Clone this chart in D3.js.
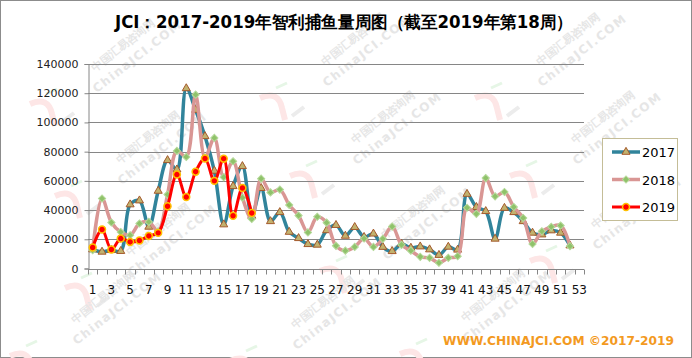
<!DOCTYPE html>
<html>
<head>
<meta charset="utf-8">
<script src="https://cdn.jsdelivr.net/npm/d3@7"></script>
<style>
  body { margin: 0; background: #fff; }
  svg text { font-family: 'DejaVu Sans', sans-serif; }
</style>
</head>
<body>
<div id="chart"></div>
<script>
// weekly catch, weeks 1..52 (2019 up to week 18)
let weeks = d3.range(1, 54)
let years = ['2017', '2018', '2019']

let catch2017 = [13000, 11400, 12500, 11900, 43800, 46500, 28500, 53100, 74100, 67700,
  123300, 108500, 90500, 66800, 30100, 56300, 70000, 36000, 55000, 32300,
  38500, 25000, 20700, 16600, 16200, 26100, 29700, 22300, 28300, 21500,
  23800, 14700, 11800, 16800, 14100, 15000, 13000, 9200, 14800, 12800,
  51000, 42000, 39200, 20300, 41400, 38500, 32300, 24400, 23200, 26000,
  24400, 15700]

let catch2018 = [12500, 47900, 31500, 25000, 22800, 30800, 31900, 25500, 50600, 80500,
  76400, 119000, 76000, 89400, 62500, 73400, 48500, 33900, 61500, 52100,
  54000, 43500, 36200, 24700, 35400, 31400, 15500, 12200, 14800, 20500,
  14800, 20300, 28700, 16200, 12200, 8000, 7300, 3900, 7300, 8400,
  41600, 37400, 61900, 49400, 52400, 42100, 34600, 16800, 25500, 28500,
  29400, 15300]

let catch2019 = [14400, 26700, 13000, 20500, 18200, 19200, 22300, 24400, 42600, 64300,
  48900, 66300, 75300, 60000, 75200, 36100, 55100, 38000]

let yTicks = [0, 20000, 40000, 60000, 80000, 100000, 120000, 140000]

let width = 692
let height = 358
let margin = { top: 64, left: 88, right: 108, bottom: 89 }

let svg = d3.select('#chart')
  .append('svg')
  .attr('width', width)
  .attr('height', height)

// outer frame
svg.append('rect')
  .attr('x', 0.5).attr('y', 0.5)
  .attr('width', width - 1).attr('height', height - 1)
  .attr('fill', '#fff')
  .attr('stroke', '#8c8c8c')

// faint watermarks
let wm = svg.append('g').attr('class', 'watermark')
let wmSpots = [
  [100, 78], [330, 72], [545, 72],
  [125, 170], [360, 150], [580, 150],
  [135, 262], [390, 245], [600, 235],
  [80, 330], [300, 335], [470, 328]
]
wmSpots.forEach(([x, y]) => {
  // little logo hook
  let lg = wm.append('g').attr('transform', `translate(${x - 58},${y + 32})`)
  lg.append('path')
    .attr('d', 'M-12,-6 Q6,-14 10,4 L13,16')
    .attr('fill', 'none').attr('stroke', '#fde6e6').attr('stroke-width', 6)
  lg.append('path')
    .attr('d', 'M4,-16 L15,-21')
    .attr('stroke', '#e6f6e6').attr('stroke-width', 3)
  lg.append('path')
    .attr('d', 'M20,12 L32,3')
    .attr('stroke', '#ececec').attr('stroke-width', 4)

  let g = wm.append('g').attr('transform', `translate(${x},${y}) rotate(-38)`)
  g.append('text').text('中国汇易咨询网')
    .attr('x', 0).attr('y', -8)
    .attr('font-family', 'Noto Sans CJK SC').attr('font-size', 11).attr('font-weight', 'bold')
    .attr('fill', '#e6e6e6')
  g.append('text').text('ChinaJCI.COM')
    .attr('x', -12).attr('y', 10)
    .attr('font-size', 12).attr('font-weight', 'bold').attr('letter-spacing', 1.5)
    .attr('fill', '#e6e6e6')
})

// title
svg.append('text')
  .text('JCI：2017-2019年智利捕鱼量周图（截至2019年第18周）')
  .attr('x', 344)
  .attr('y', 28)
  .attr('text-anchor', 'middle')
  .attr('font-family', "'Noto Sans CJK SC', sans-serif")
  .attr('font-weight', 'bold')
  .attr('font-size', 17)
  .attr('textLength', 458)
  .attr('lengthAdjust', 'spacingAndGlyphs')
  .attr('fill', '#000')

let xScale = d3.scaleBand()
  .domain(weeks)
  .range([margin.left, width - margin.right])

let yScale = d3.scaleLinear()
  .domain([0, 140000])
  .range([height - margin.bottom - 0.5, margin.top])

let xc = w => xScale(w) + xScale.bandwidth() / 2

// grid
svg.append('g')
  .selectAll('.grid')
  .data(yTicks.slice(1))
  .enter()
  .append('line')
  .attr('class', 'grid')
  .attr('x1', margin.left)
  .attr('x2', width - margin.right)
  .attr('y1', d => Math.round(yScale(d)) + 0.5)
  .attr('y2', d => Math.round(yScale(d)) + 0.5)
  .attr('stroke', '#868686')

// y axis
let yAxis = d3.axisLeft(yScale)
  .tickValues(yTicks)
  .tickFormat(d3.format('d'))
  .tickSize(4)
  .tickPadding(6)
let yG = svg.append('g')
  .attr('transform', `translate(${margin.left + 0.5},0)`)
  .call(yAxis)
yG.select('.domain').attr('stroke', '#868686')
yG.selectAll('.tick line').attr('stroke', '#868686')
yG.selectAll('.tick text')
  .attr('font-family', 'DejaVu Sans')
  .attr('font-size', 11)
  .attr('fill', '#222')

// x axis: ticks at category edges, labels every other week
let xG = svg.append('g')
  .attr('transform', `translate(0,${Math.round(yScale(0)) + 0.5})`)
xG.append('line')
  .attr('x1', margin.left).attr('x2', width - margin.right)
  .attr('stroke', '#868686')
xG.selectAll('.xtick')
  .data(d3.range(weeks.length + 1))
  .enter()
  .append('line')
  .attr('class', 'xtick')
  .attr('x1', i => Math.round(margin.left + i * xScale.step()) + 0.5)
  .attr('x2', i => Math.round(margin.left + i * xScale.step()) + 0.5)
  .attr('y1', 0).attr('y2', 5)
  .attr('stroke', '#868686')
xG.selectAll('.xlabel')
  .data(weeks.filter(w => w % 2 === 1))
  .enter()
  .append('text')
  .attr('class', 'xlabel')
  .text(d => d)
  .attr('x', d => xc(d))
  .attr('y', 24)
  .attr('text-anchor', 'middle')
  .attr('font-family', 'Liberation Sans')
  .attr('font-size', 12)
  .attr('fill', '#111')

// series
let series = [
  { name: '2017', values: catch2017, color: '#31849b', lw: 3.5, marker: 'triangle', mfill: '#c2b26e', mstroke: '#a55a2c' },
  { name: '2018', values: catch2018, color: '#d99694', lw: 3.5, marker: 'diamond', mfill: '#8fc26a', mstroke: '#b5d99a' },
  { name: '2019', values: catch2019, color: '#ff0000', lw: 3, marker: 'circle', mfill: '#ff0000', mstroke: '#ffc000' }
]

let line = d3.line()
  .x((d, i) => xc(weeks[i]))
  .y(d => yScale(d))
  .curve(d3.curveCatmullRom.alpha(0.5))

let symbolFor = {
  triangle: d3.symbol().type(d3.symbolTriangle).size(28),
  diamond: d3.symbol().type(d3.symbolSquare).size(26),
  circle: d3.symbol().type(d3.symbolCircle).size(38)
}

series.forEach(s => {
  let g = svg.append('g').attr('class', 'series-' + s.name)
  g.append('path')
    .datum(s.values)
    .attr('d', line)
    .attr('fill', 'none')
    .attr('stroke', s.color)
    .attr('stroke-width', s.lw)
    .attr('stroke-linejoin', 'round')

  g.selectAll('.mark')
    .data(s.values)
    .enter()
    .append('path')
    .attr('class', 'mark')
    .attr('d', symbolFor[s.marker])
    .attr('transform', (d, i) => {
      let t = `translate(${xc(weeks[i])},${yScale(d)})`
      return s.marker === 'diamond' ? t + ' rotate(45)' : t
    })
    .attr('fill', s.mfill)
    .attr('stroke', s.mstroke)
    .attr('stroke-width', s.marker === 'circle' ? 1.5 : 1)
})

// legend
let legend = svg.append('g').attr('transform', 'translate(602,138)')
legend.append('rect')
  .attr('x', 0.5).attr('y', 0.5)
  .attr('width', 75).attr('height', 82)
  .attr('fill', '#fff')
  .attr('stroke', '#c4bd97')

legend.selectAll('.legend-entry')
  .data(series)
  .enter()
  .append('g')
  .attr('class', 'legend-entry')
  .attr('transform', (d, i) => `translate(0,${14 + i * 27.5})`)
  .each(function (d) {
    let g = d3.select(this)
    g.append('line')
      .attr('x1', 10).attr('x2', 38)
      .attr('stroke', d.color)
      .attr('stroke-width', d.lw)
    g.append('path')
      .attr('d', symbolFor[d.marker])
      .attr('transform', d.marker === 'diamond' ? 'translate(24,0) rotate(45)' : 'translate(24,0)')
      .attr('fill', d.mfill)
      .attr('stroke', d.mstroke)
      .attr('stroke-width', d.marker === 'circle' ? 1.5 : 1)
    g.append('text')
      .text(d.name)
      .attr('x', 40)
      .attr('y', 5)
      .attr('font-family', 'Liberation Sans')
      .attr('font-size', 13)
      .attr('fill', '#000')
  })

// footer
svg.append('text')
  .text('WWW.CHINAJCI.COM  ©2017-2019')
  .attr('x', 674)
  .attr('y', 345)
  .attr('text-anchor', 'end')
  .attr('font-family', 'Liberation Sans')
  .attr('font-weight', 'bold')
  .attr('font-size', 13)
  .attr('textLength', 231)
  .attr('lengthAdjust', 'spacingAndGlyphs')
  .attr('fill', '#f39a1f')
</script>
</body>
</html>
